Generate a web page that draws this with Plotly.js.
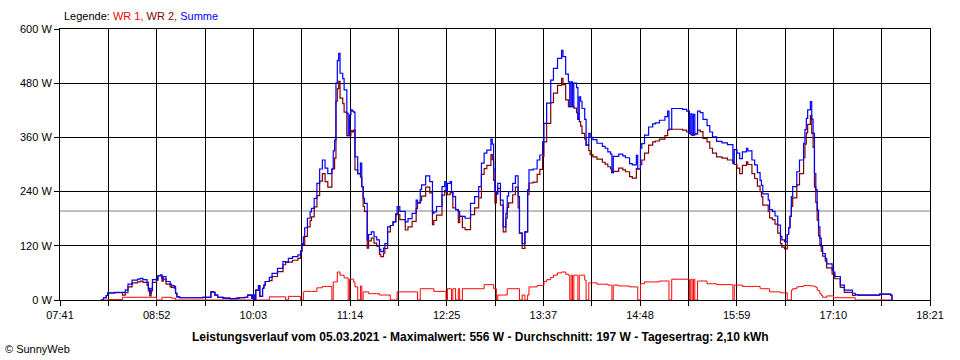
<!DOCTYPE html>
<html>
<head>
<meta charset="utf-8">
<script src="https://cdn.plot.ly/plotly-3.0.1.min.js"></script>
<style>
html,body{margin:0;padding:0;background:#fff;}
#chart{width:960px;height:360px;}
</style>
</head>
<body>
<div id="chart"></div>
<script>
// ---- data ----
const times = ["08:11","08:13","08:15","08:16","08:21","08:27","08:29","08:31","08:34","08:38","08:40","08:42","08:45","08:46","08:47","08:48","08:49","08:52","08:53","08:55","08:56","08:57","08:59","09:02","09:03","09:05","09:06","09:07","09:09","09:17","09:24","09:26","09:30","09:32","09:34","09:35","09:37","09:41","09:46","09:51","09:53","09:57","09:59","10:02","10:03","10:04","10:05","10:07","10:08","10:10","10:11","10:12","10:15","10:17","10:21","10:25","10:27","10:29","10:32","10:36","10:38","10:39","10:40","10:41","10:43","10:45","10:46","10:48","10:50","10:52","10:54","10:56","10:58","11:01","11:02","11:03","11:04","11:05","11:06","11:07","11:09","11:10","11:12","11:13","11:14","11:15","11:16","11:17","11:18","11:20","11:22","11:23","11:24","11:25","11:27","11:28","11:30","11:32","11:34","11:36","11:37","11:39","11:40","11:42","11:44","11:46","11:48","11:49","11:51","11:55","11:57","12:00","12:03","12:04","12:06","12:07","12:10","12:13","12:15","12:16","12:18","12:22","12:24","12:25","12:26","12:28","12:29","12:30","12:32","12:34","12:35","12:37","12:39","12:43","12:46","12:49","12:51","12:53","12:55","12:58","12:59","13:00","13:01","13:02","13:03","13:05","13:07","13:09","13:10","13:11","13:14","13:16","13:18","13:19","13:21","13:23","13:25","13:26","13:29","13:32","13:34","13:36","13:37","13:39","13:42","13:44","13:47","13:50","13:51","13:53","13:55","13:56","13:57","13:58","13:59","14:01","14:02","14:03","14:04","14:05","14:07","14:08","14:10","14:11","14:13","14:16","14:20","14:22","14:24","14:26","14:27","14:28","14:32","14:35","14:37","14:40","14:42","14:45","14:46","14:48","14:49","14:51","14:54","14:57","14:59","15:02","15:06","15:08","15:09","15:11","15:12","15:16","15:19","15:22","15:24","15:25","15:26","15:27","15:28","15:30","15:32","15:34","15:37","15:39","15:41","15:44","15:48","15:52","15:55","15:56","15:57","15:59","16:01","16:03","16:06","16:07","16:10","16:12","16:14","16:16","16:17","16:18","16:22","16:23","16:25","16:27","16:29","16:31","16:32","16:34","16:36","16:37","16:38","16:39","16:40","16:43","16:45","16:48","16:49","16:50","16:51","16:53","16:54","16:55","16:56","16:57","16:58","16:59","17:00","17:01","17:02","17:04","17:05","17:09","17:10","17:11","17:15","17:18","17:24","17:26","17:28","17:37","17:44","17:52","17:53"];

const wr1 = [0,0,0,1,1,6,6,6,6,6,6,6,6,6,6,6,6,0,0,0,6,6,6,6,4,4,0,0,0,0,0,0,0,0,0,0,0,0,0,0,0,0,0,0,0,0,0,0,0,0,0,0,7,7,7,7,0,8,8,8,0,0,18,19,19,19,19,19,27,27,30,30,30,0,40,40,40,62,62,55,55,49,49,0,46,46,46,40,29,0,31,0,18,18,18,14,14,14,14,11,11,11,11,11,0,0,0,18,18,18,18,18,18,0,25,25,25,25,25,19,19,19,19,0,25,25,0,25,0,25,0,25,25,25,25,25,25,34,34,34,34,25,25,0,11,11,11,11,25,25,25,25,25,0,11,0,11,29,29,32,32,32,41,45,50,55,60,62,62,57,55,0,55,0,55,55,0,55,55,55,44,0,38,38,38,35,35,35,33,33,0,33,31,31,31,29,29,29,0,36,36,40,40,40,40,42,42,42,0,46,46,46,46,46,0,46,0,46,0,42,42,42,36,36,36,34,34,34,34,0,33,33,33,30,30,30,30,30,30,25,25,25,25,18,18,18,18,16,16,16,0,0,0,22,25,29,30,32,32,32,32,31,31,31,30,28,22,20,14,10,6,6,9,9,5,5,5,5,5,0,0,0,0,0,0];

const wr2 = [0,5,10,15,16,11,16,29,38,40,42,39,33,20,9,20,39,44,54,55,42,46,35,29,28,26,15,7,5,5,5,6,6,18,17,11,6,4,3,4,5,6,11,4,11,2,22,32,8,26,33,41,43,52,63,78,84,84,88,92,108,125,122,141,162,176,184,206,231,263,280,262,250,290,290,314,440,468,484,447,435,416,364,364,364,375,372,376,288,280,272,251,207,196,115,131,137,126,119,101,96,104,114,151,165,173,190,189,178,155,162,174,203,215,220,230,250,237,167,176,188,232,243,240,233,237,240,204,200,171,185,160,156,189,204,226,278,291,298,322,311,265,215,235,247,210,151,181,205,215,233,250,204,148,114,151,233,259,261,278,289,318,350,391,437,458,475,491,477,443,428,428,428,428,425,415,400,395,385,369,356,343,331,322,317,312,305,301,295,290,282,285,292,288,284,273,270,291,290,300,310,325,343,350,352,356,364,376,378,378,378,378,376,372,369,366,365,365,368,376,373,358,350,336,325,317,314,310,310,303,300,292,280,298,306,300,280,269,252,240,229,210,196,182,178,168,148,125,117,113,145,160,185,207,226,255,280,315,345,370,389,408,369,338,250,216,177,142,123,108,97,86,71,57,57,47,28,17,10,12,11,11,13,11,0];

const summe = [0,5,10,16,17,17,22,35,44,46,48,45,39,26,15,26,45,44,54,55,48,52,41,35,32,30,15,7,5,5,5,6,6,18,17,11,6,4,3,4,5,6,11,4,11,2,22,32,8,26,33,41,50,59,70,85,84,92,96,100,108,125,140,160,181,195,203,225,258,290,310,292,280,290,330,354,480,530,546,502,490,465,413,364,410,421,418,416,317,280,303,251,225,214,133,145,151,140,133,112,107,115,125,162,165,173,190,207,196,173,180,192,221,215,245,255,275,262,192,195,207,251,262,240,258,262,240,229,200,196,185,185,181,214,229,251,303,325,332,356,345,290,240,235,258,221,162,192,230,240,258,275,229,148,125,151,244,288,290,310,321,350,391,436,487,513,535,553,539,500,483,428,483,428,480,470,400,450,440,424,400,343,369,360,355,347,340,336,328,323,282,318,323,319,315,302,299,320,290,336,346,365,383,390,392,398,406,418,378,424,424,424,422,418,369,412,365,411,368,418,415,400,386,372,361,351,348,344,344,303,333,325,313,328,336,330,310,299,282,265,254,235,221,200,196,186,166,141,133,129,145,160,185,229,251,284,310,347,377,402,421,439,400,369,280,244,199,162,137,118,103,92,80,66,62,52,33,22,15,12,11,11,13,11,0];

const average = 197;           // Durchschnitt (grey line)
const xTickLabels = ["07:41","08:52","10:03","11:14","12:25","13:37","14:48","15:59","17:10","18:21"];
const yTickValues = [0,120,240,360,480,600];
const startLabel = "07:41", endLabel = "18:21";
const seriesNames = ["WR 1","WR 2","Summe"];
const titleText = "Leistungsverlauf vom 05.03.2021 - Maximalwert: 556 W - Durchschnitt: 197 W - Tagesertrag: 2,10 kWh";

// ---- helpers ----
function toMin(t){ const p = t.split(":"); return (+p[0])*60 + (+p[1]); }
const xs = times.map(toMin);
const x0 = toMin(startLabel), x1 = toMin(endLabel);
const nGrid = (xTickLabels.length - 1) * 2;
const tickvals = [], ticktext = [];
for (let i = 0; i <= nGrid; i++) {
  tickvals.push(x0 + (x1 - x0) * i / nGrid);
  ticktext.push(i % 2 === 0 ? xTickLabels[i/2] : "");
}
const FONT = "Liberation Sans, Arial, sans-serif";

const colors = ["#ff0000", "#800000", "#0000ff"];
const data = [wr1, wr2, summe].map((ys, k) => ({
  type: "scatter", mode: "lines", name: seriesNames[k],
  x: xs, y: ys,
  line: {color: colors[k], width: k === 0 ? 1 : 1.2, shape: "hv"},
  hoverinfo: "skip"
}));

const layout = {
  width: 960, height: 360,
  margin: {l: 60, r: 30, t: 29, b: 60, pad: 0},
  paper_bgcolor: "#ffffff", plot_bgcolor: "#ffffff",
  showlegend: false,
  font: {family: FONT, size: 11, color: "#000"},
  xaxis: {
    range: [x0, x1], tickmode: "array", tickvals: tickvals, ticktext: ticktext,
    showgrid: true, gridcolor: "#000", gridwidth: 1, zeroline: false,
    showline: true, mirror: true, linecolor: "#000", linewidth: 1,
    ticks: "outside", ticklen: 5, tickcolor: "#000", tickwidth: 1,
    tickfont: {family: FONT, size: 11, color: "#000"}, fixedrange: true
  },
  yaxis: {
    range: [0, 600], tickmode: "array", tickvals: yTickValues,
    ticktext: yTickValues.map(v => v + " W"),
    showgrid: true, gridcolor: "#000", gridwidth: 1, zeroline: false,
    showline: true, mirror: true, linecolor: "#000", linewidth: 1,
    ticks: "outside", ticklen: 5, tickcolor: "#000", tickwidth: 1,
    tickfont: {family: FONT, size: 11, color: "#000"}, fixedrange: true
  },
  shapes: [{
    type: "line", xref: "paper", x0: 0, x1: 1, yref: "y", y0: average, y1: average,
    line: {color: "#808080", width: 1}, layer: "below"
  }],
  annotations: [
    {xref: "paper", yref: "paper", x: 0.002, y: 1.048, xanchor: "left", yanchor: "middle",
     showarrow: false, font: {family: FONT, size: 11, color: "#000"},
     text: 'Legende: <span style="color:#ff0000">WR 1,</span> <span style="color:#800000">WR 2,</span> <span style="color:#0000ff">Summe</span>'},
    {xref: "paper", yref: "paper", x: 0.4828, y: -0.136, xanchor: "center", yanchor: "middle",
     showarrow: false, font: {family: FONT, size: 12, color: "#000"},
     text: "<b>" + titleText + "</b>"},
    {xref: "paper", yref: "paper", x: -0.0655, y: -0.181, xanchor: "left", yanchor: "middle",
     showarrow: false, font: {family: FONT, size: 11, color: "#000"},
     text: "© SunnyWeb"}
  ]
};

Plotly.newPlot("chart", data, layout, {displayModeBar: false, staticPlot: true});
</script>
</body>
</html>
